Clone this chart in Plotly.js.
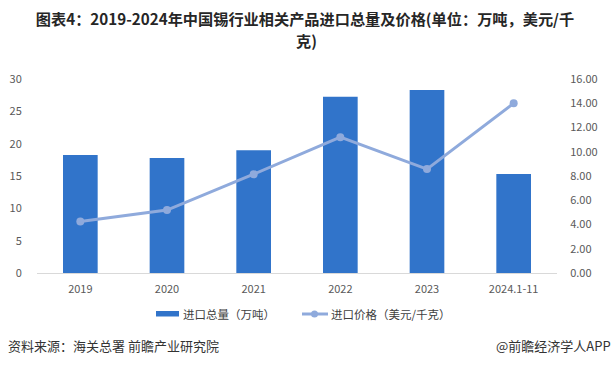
<!DOCTYPE html>
<html>
<head>
<meta charset="utf-8">
<script src="https://cdn.plot.ly/plotly-3.0.1.min.js"></script>
<style>html,body{margin:0;padding:0;background:#fff;}#chart{width:613px;height:367px;}</style>
</head>
<body>
<div id="chart"></div>
<script>
const categories = ["2019", "2020", "2021", "2022", "2023", "2024.1-11"];
const importVolume = [18.25, 17.8, 19.0, 27.25, 28.3, 15.3];
const importPrice = [4.25, 5.19, 8.15, 11.2, 8.57, 14.0];
const leftTicks = [0, 5, 10, 15, 20, 25, 30];
const rightTicks = [0, 2, 4, 6, 8, 10, 12, 14, 16];
const volumeName = "进口总量（万吨）";
const priceName = "进口价格（美元/千克）";

const barColor = "#3174CA";
const lineColor = "#8FAADC";
const FONT = "'Noto Sans CJK SC', 'Noto Sans', sans-serif";
const tickFont = {family: FONT, size: 11, color: "#595959"};

const L = 37, R = 56, T = 79, B = 94, W = 613, H = 367;
const pw = W - L - R, ph = H - T - B;
const px = x => (x - L) / pw;
const py = y => (H - B - y) / ph;

const traces = [
  {type: "bar", x: categories, y: importVolume, name: volumeName,
   marker: {color: barColor}, yaxis: "y", hoverinfo: "none"},
  {type: "scatter", mode: "lines+markers", x: categories, y: importPrice, name: priceName,
   line: {color: lineColor, width: 3}, marker: {color: lineColor, size: 8}, yaxis: "y2", hoverinfo: "none"}
];

const layout = {
  width: W, height: H,
  margin: {l: L, r: R, t: T, b: B, pad: 0},
  paper_bgcolor: "#fff", plot_bgcolor: "#fff",
  showlegend: false,
  bargap: 0.6,
  font: {family: FONT},
  title: {
    text: "<b>图表4：2019-2024年中国锡行业相关产品进口总量及价格(单位：万吨，美元/千</b>",
    font: {family: FONT, size: 15.2, color: "#262626"},
    x: 305 / W, xanchor: "center", xref: "container",
    y: 1 - 19.5 / H, yanchor: "middle", yref: "container"
  },
  xaxis: {
    type: "category", showgrid: false, zeroline: false,
    showline: true, linecolor: "#D9D9D9", linewidth: 1,
    ticks: "outside", ticklen: 6, tickcolor: "rgba(0,0,0,0)",
    tickfont: tickFont, fixedrange: true
  },
  yaxis: {
    range: [0, 30], tickvals: leftTicks, showgrid: false, zeroline: false, showline: false,
    ticks: "outside", ticklen: 12, tickcolor: "rgba(0,0,0,0)",
    tickfont: tickFont, fixedrange: true
  },
  yaxis2: {
    range: [0, 16], tickvals: rightTicks, tickformat: ".2f", overlaying: "y", side: "right",
    showgrid: false, zeroline: false, showline: false,
    ticks: "outside", ticklen: 10, tickcolor: "rgba(0,0,0,0)",
    tickfont: tickFont, fixedrange: true
  },
  shapes: [
    {type: "rect", xref: "paper", yref: "paper", x0: px(156), x1: px(179), y0: py(316.5), y1: py(311), fillcolor: barColor, line: {width: 0}},
    {type: "line", xref: "paper", yref: "paper", x0: px(302), x1: px(328), y0: py(314), y1: py(314), line: {color: lineColor, width: 3}},
    {type: "circle", xref: "paper", yref: "paper", xsizemode: "pixel", ysizemode: "pixel",
     xanchor: px(314.5), yanchor: py(314), x0: -3.5, x1: 3.5, y0: -3.5, y1: 3.5, fillcolor: lineColor, line: {width: 0}}
  ],
  annotations: [
    {text: "<b>克)</b>", xref: "paper", yref: "paper", x: px(306.5), y: py(39.5), xanchor: "center", yanchor: "middle",
     showarrow: false, font: {family: FONT, size: 15.2, color: "#262626"}},
    {text: volumeName, xref: "paper", yref: "paper", x: px(181), y: py(314), xanchor: "left", yanchor: "middle",
     showarrow: false, font: {family: FONT, size: 11.5, color: "#404040"}},
    {text: priceName, xref: "paper", yref: "paper", x: px(328.5), y: py(314), xanchor: "left", yanchor: "middle",
     showarrow: false, font: {family: FONT, size: 11.5, color: "#404040"}},
    {text: "资料来源：海关总署 前瞻产业研究院", xref: "paper", yref: "paper", x: px(5.5), y: py(345.5), xanchor: "left", yanchor: "middle",
     showarrow: false, font: {family: FONT, size: 13, color: "#333333"}},
    {text: "@前瞻经济学人APP", xref: "paper", yref: "paper", x: px(612.5), y: py(345.5), xanchor: "right", yanchor: "middle",
     showarrow: false, font: {family: FONT, size: 13, color: "#333333"}}
  ]
};

Plotly.newPlot("chart", traces, layout, {displayModeBar: false, staticPlot: true});
</script>
</body>
</html>
